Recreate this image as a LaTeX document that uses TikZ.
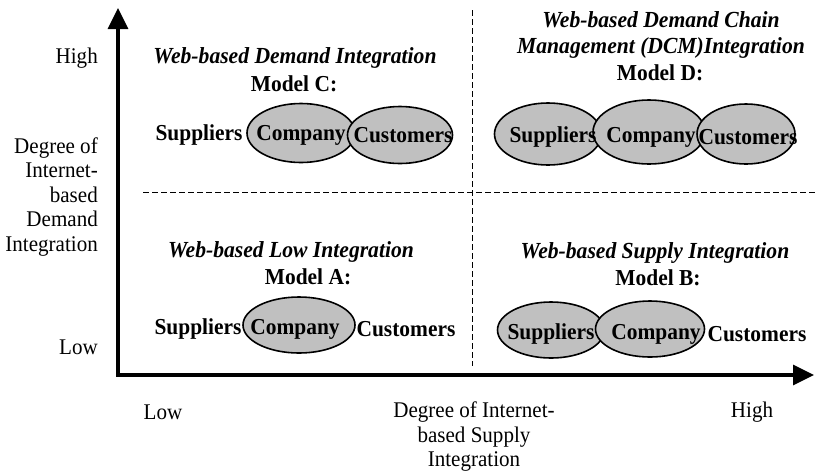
\documentclass[tikz,border=0pt]{standalone}
\usepackage{fontspec}
\setmainfont[FakeStretch=0.94]{Liberation Serif}
\usetikzlibrary{arrows.meta,shapes.geometric}
\definecolor{ellfill}{RGB}{192,192,192}
\tikzset{
  lbl/.style={inner sep=0pt, font=\fontsize{22.4}{24.5}\selectfont},
  ttl/.style={inner sep=0pt, font=\fontsize{23}{25.5}\selectfont\bfseries\itshape, align=center},
  mdl/.style={inner sep=0pt, font=\fontsize{22.8}{25.5}\selectfont\bfseries},
  ent/.style={inner sep=0pt, font=\fontsize{22.8}{25.5}\selectfont\bfseries},
  ell/.style={ellipse, draw, line width=1.6pt, fill=ellfill, inner sep=0pt},
  axisline/.style={line width=3.2pt, {Triangle[length=21pt,width=20pt]}-{Triangle[length=21pt,width=20pt]}},
  divider/.style={line width=1pt, dash pattern=on 6pt off 3pt}
}
\begin{document}
\begin{tikzpicture}[x=1pt,y=-1pt]
\useasboundingbox (0,0) rectangle (818,472);
% dividers
\coordinate (vtop) at (472,10);
\coordinate (vbot) at (472,366);
\coordinate (hleft) at (143,192);
\coordinate (hright) at (818,192);
\draw[divider] (vtop) -- (vbot);
\draw[divider] (hleft) -- (hright);
% axes
\coordinate (ytip) at (118,8);
\coordinate (orig) at (118,375);
\coordinate (xtip) at (814,375);
\draw[axisline] (ytip) -- (orig) -- (xtip);
% axis labels
\node[lbl, anchor=east] (yhigh) at (98,58) {High};
\node[lbl, anchor=east, align=right] (ytitle) at (98,197) {Degree of\\Internet-\\based\\Demand\\Integration};
\node[lbl, anchor=east] (ylow) at (98,347) {Low};
\node[lbl] (xlow) at (163,412) {Low};
\node[lbl, align=center] (xtitle) at (474,437) {Degree of Internet-\\based Supply\\Integration};
\node[lbl] (xhigh) at (752,412) {High};
% Quadrant C
\node[ell, minimum width=108pt, minimum height=59pt] (cC) at (301,133) {};
\node[ell, minimum width=105pt, minimum height=57pt] (cU) at (400,135) {};
\node[ttl] (tC) at (295,58) {Web-based Demand Integration};
\node[mdl] (mC) at (294,84) {Model C:};
\node[ent] (sCt) at (199,135) {Suppliers};
\node[ent] (cCt) at (301,135) {Company};
\node[ent] (uCt) at (403,135) {Customers};
% Quadrant D
\node[ell, minimum width=107pt, minimum height=62pt] (dS) at (548,134) {};
\node[ell, minimum width=112pt, minimum height=64pt] (dC) at (649,132) {};
\node[ell, minimum width=98pt, minimum height=60pt] (dU) at (746,134) {};
\node[ttl] (tD) at (661,35) {Web-based Demand Chain\\Management (DCM)Integration};
\node[mdl] (mD) at (660,73) {Model D:};
\node[ent] (sDt) at (553,137) {Suppliers};
\node[ent] (cDt) at (651,137) {Company};
\node[ent] (uDt) at (748,137) {Customers};
% Quadrant A
\node[ell, minimum width=112pt, minimum height=56pt] (aC) at (299,325) {};
\node[ttl] (tA) at (291,252) {Web-based Low Integration};
\node[mdl] (mA) at (308,277) {Model A:};
\node[ent] (sAt) at (198,329) {Suppliers};
\node[ent] (cAt) at (295,329) {Company};
\node[ent] (uAt) at (406,329) {Customers};
% Quadrant B
\node[ell, minimum width=107pt, minimum height=56pt] (bS) at (551,330) {};
\node[ell, minimum width=109pt, minimum height=56pt] (bC) at (650,329) {};
\node[ttl] (tB) at (655,253) {Web-based Supply Integration};
\node[mdl] (mB) at (658,278) {Model B:};
\node[ent] (sBt) at (551,334) {Suppliers};
\node[ent] (cBt) at (656,334) {Company};
\node[ent] (uBt) at (757,334) {Customers};
\end{tikzpicture}
\end{document}
